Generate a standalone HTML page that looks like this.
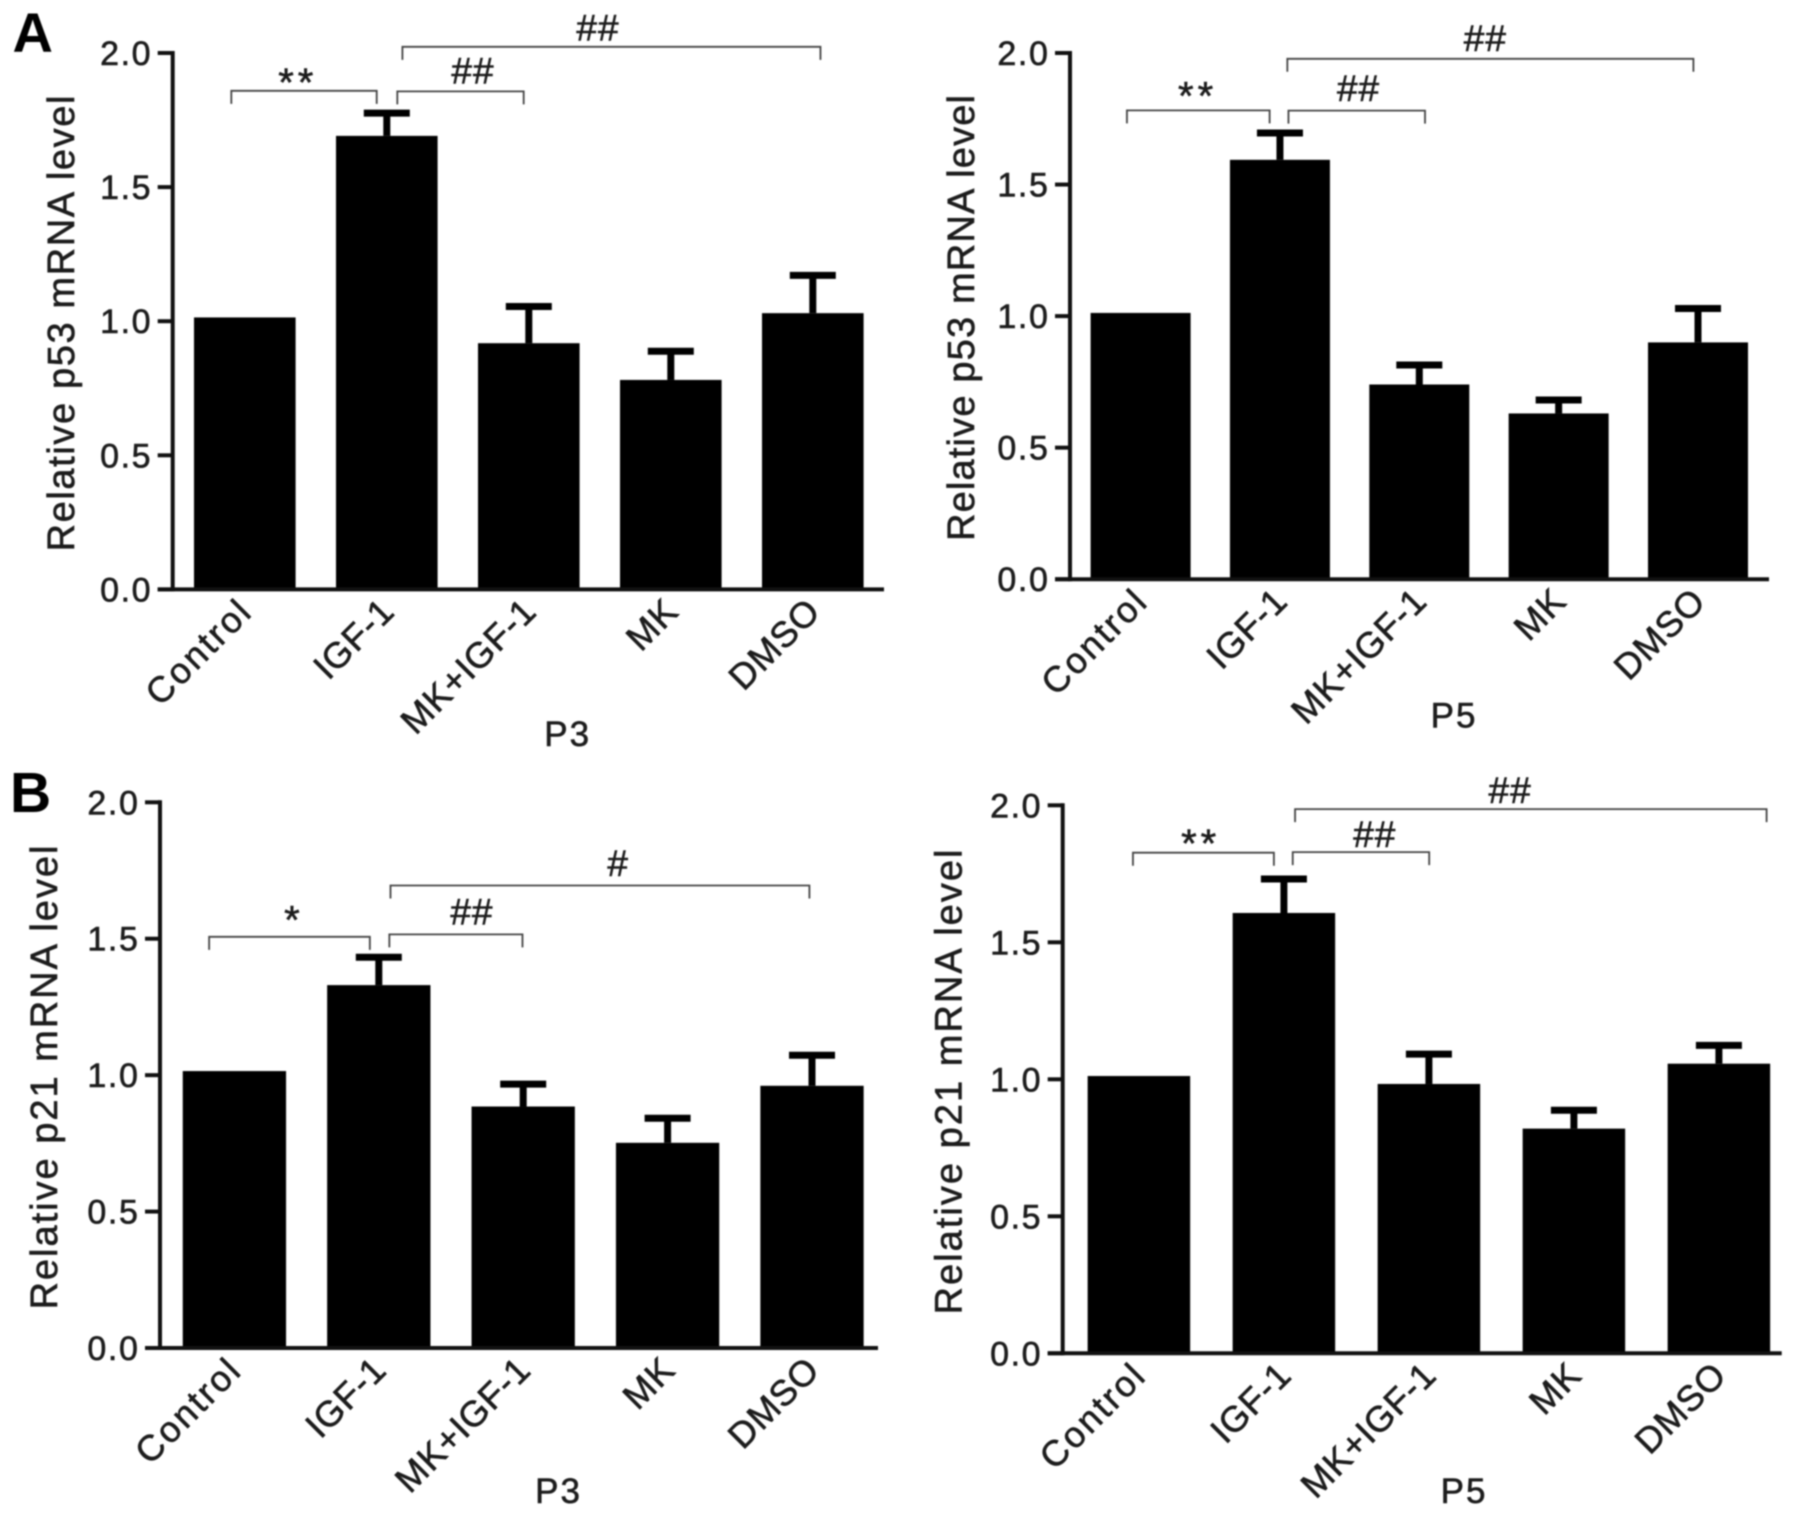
<!DOCTYPE html>
<html>
<head>
<meta charset="utf-8">
<title>Relative p53 and p21 mRNA levels</title>
<style>
html,body{margin:0;padding:0;background:#fff;width:1795px;height:1519px;overflow:hidden}
svg{display:block;filter:blur(0.8px)}
text{font-family:"Liberation Sans",Arial,sans-serif;fill:#1c1c1c;stroke:#1c1c1c;stroke-width:0.6px}
</style>
</head>
<body>
<svg id="figure" width="1795" height="1519" viewBox="0 0 1795 1519" xmlns="http://www.w3.org/2000/svg">
<rect x="0" y="0" width="1795" height="1519" fill="#fff"/>
<text x="12.5" y="52" font-size="56" font-weight="bold" style="fill:#000;stroke:none">A</text>
<text x="10" y="812" font-size="57" font-weight="bold" style="fill:#000;stroke:none">B</text>
</svg>
<script>
const categories = ['Control', 'IGF-1', 'MK+IGF-1', 'MK', 'DMSO'];
const yTickValues = [0, 0.5, 1, 1.5, 2];
const yTickLabels = ['0.0', '0.5', '1.0', '1.5', '2.0'];

const p53P3Values = [1.014, 1.691, 0.918, 0.781, 1.03];
const p53P3Errors = [0, 0.085, 0.137, 0.107, 0.141];
const p53P5Values = [1.012, 1.594, 0.74, 0.63, 0.9];
const p53P5Errors = [0, 0.102, 0.074, 0.051, 0.129];
const p21P3Values = [1.015, 1.33, 0.885, 0.752, 0.961];
const p21P3Errors = [0, 0.102, 0.082, 0.09, 0.112];
const p21P5Values = [1.012, 1.607, 0.983, 0.82, 1.057];
const p21P5Errors = [0, 0.124, 0.109, 0.067, 0.067];

const p53P3BracketText = ['**', '##', '##'];
const p53P3BracketFrom = [-0.095, 1.074, 1.11];
const p53P3BracketTo = [0.929, 1.964, 4.054];
const p53P3BracketLevel = [1.859, 1.857, 2.023];
const p53P3TextCat = [0.366, 1.6, 2.48];
const p53P3TextLevel = [1.915, 1.924, 2.083];

const p53P5BracketText = ['**', '##', '##'];
const p53P5BracketFrom = [-0.098, 1.061, 1.053];
const p53P5BracketTo = [0.926, 2.041, 3.967];
const p53P5BracketLevel = [1.782, 1.781, 1.978];
const p53P5TextCat = [0.402, 1.557, 2.467];
const p53P5TextLevel = [1.862, 1.856, 2.046];

const p21P3BracketText = ['*', '##', '#'];
const p21P3BracketFrom = [-0.175, 1.073, 1.081];
const p21P3BracketTo = [0.938, 1.995, 3.982];
const p21P3BracketLevel = [1.507, 1.516, 1.695];
const p21P3TextCat = [0.405, 1.638, 2.651];
const p21P3TextLevel = [1.592, 1.588, 1.766];

const p21P5BracketText = ['**', '##', '##'];
const p21P5BracketFrom = [-0.041, 1.061, 1.077];
const p21P5BracketTo = [0.931, 2.002, 4.329];
const p21P5BracketLevel = [1.827, 1.829, 1.986];
const p21P5TextCat = [0.419, 1.62, 2.553];
const p21P5TextLevel = [1.885, 1.885, 2.044];

const NS = 'http://www.w3.org/2000/svg';
const figure = document.getElementById('figure');

function make(parent, tag, attrs) {
  const el = document.createElementNS(NS, tag);
  for (const k in attrs) el.setAttribute(k, attrs[k]);
  parent.appendChild(el);
  return el;
}

function drawPanel(p) {
  const xPos = c => p.firstCenter + c * p.step;
  const yPos = v => p.y0 - (p.y0 - p.y2) * v / 2;

  const g = make(figure, 'g', {});
  
  

  p.values.forEach((v, i) => {
    const cx = xPos(i);
    const bar = make(g, 'rect', {x: cx - p.barWidth / 2, y: yPos(v), width: p.barWidth, height: p.y0 - yPos(v), fill: '#000'});
    
    
    if (p.errors[i] > 0) {
      const top = yPos(v + p.errors[i]);
      const stem = make(g, 'line', {x1: cx, x2: cx, y1: yPos(v), y2: top, stroke: '#000', 'stroke-width': 7});
      
      
      const cap = make(g, 'line', {x1: cx - 23, x2: cx + 23, y1: top, y2: top, stroke: '#000', 'stroke-width': 7});
      
      
    }
    const label = make(g, 'text', {
      x: 0, y: 0, 'font-size': 36, 'letter-spacing': categories[i] === 'Control' ? 2.4 : 0.8, 'text-anchor': 'end',
      transform: 'translate(' + (cx + 9.5) + ',' + (p.y0 + 24) + ') rotate(-45)'
    });
    label.textContent = categories[i];
    
    
  });

  const yAxis = make(g, 'line', {x1: p.axisX, x2: p.axisX, y1: p.y2 - 2, y2: p.y0 + 2, stroke: '#111', 'stroke-width': 4});
  
  
  const xAxis = make(g, 'line', {x1: p.axisX - 15, x2: p.axisEnd, y1: p.y0, y2: p.y0, stroke: '#111', 'stroke-width': 4});
  
  

  yTickValues.forEach((t, i) => {
    const y = yPos(t);
    const tick = make(g, 'line', {x1: p.axisX - 15, x2: p.axisX, y1: y, y2: y, stroke: '#111', 'stroke-width': 4});
    
    
    const label = make(g, 'text', {x: p.axisX - 20.5, y: y + 12, 'font-size': 34, 'letter-spacing': 1.6, 'text-anchor': 'end'});
    label.textContent = yTickLabels[i];
    
    
  });

  const yTitle = make(g, 'text', {
    x: 0, y: 0, 'font-size': 38, 'text-anchor': 'middle',
    textLength: p.titleLen, lengthAdjust: 'spacing',
    transform: 'translate(' + p.titleX + ',' + p.titleY + ') rotate(-90)'
  });
  yTitle.textContent = p.yTitle;
  
  

  const xTitle = make(g, 'text', {x: p.xTitleX, y: p.xTitleY, 'font-size': 35, 'letter-spacing': 2, 'text-anchor': 'middle'});
  xTitle.textContent = p.xTitle;
  
  

  p.bText.forEach((s, i) => {
    const x1 = xPos(p.bFrom[i]);
    const x2 = xPos(p.bTo[i]);
    const y = yPos(p.bLevel[i]);
    const bracket = make(g, 'path', {
      d: 'M' + x1 + ' ' + (y + 13) + 'V' + y + 'H' + x2 + 'V' + (y + 13),
      fill: 'none', stroke: '#444', 'stroke-width': 1.8
    });
    
    
    const star = s.charAt(0) === '*';
    const mark = make(g, 'text', {
      x: xPos(p.tCat[i]) + 1, y: yPos(p.tLevel[i]) + (star ? 20 : 10),
      'font-size': star ? 40 : 37, 'letter-spacing': star ? 4 : 1, 'text-anchor': 'middle'
    });
    mark.textContent = s;
    
    
  });
}

drawPanel({name: 'chart-p53-p3', yTitle: 'Relative p53 mRNA level', xTitle: 'P3',
  values: p53P3Values, errors: p53P3Errors,
  bText: p53P3BracketText, bFrom: p53P3BracketFrom, bTo: p53P3BracketTo, bLevel: p53P3BracketLevel,
  tCat: p53P3TextCat, tLevel: p53P3TextLevel,
  axisX: 172.7, axisEnd: 884, y2: 53, y0: 589.4, firstCenter: 244.8, step: 142, barWidth: 101.6,
  titleX: 74, titleY: 323.5, titleLen: 456, xTitleX: 567.7, xTitleY: 746});

drawPanel({name: 'chart-p53-p5', yTitle: 'Relative p53 mRNA level', xTitle: 'P5',
  values: p53P5Values, errors: p53P5Errors,
  bText: p53P5BracketText, bFrom: p53P5BracketFrom, bTo: p53P5BracketTo, bLevel: p53P5BracketLevel,
  tCat: p53P5TextCat, tLevel: p53P5TextLevel,
  axisX: 1070, axisEnd: 1769, y2: 53, y0: 579.2, firstCenter: 1140.6, step: 139.35, barWidth: 100,
  titleX: 974, titleY: 318, titleLen: 446, xTitleX: 1454, xTitleY: 727.5});

drawPanel({name: 'chart-p21-p3', yTitle: 'Relative p21 mRNA level', xTitle: 'P3',
  values: p21P3Values, errors: p21P3Errors,
  bText: p21P3BracketText, bFrom: p21P3BracketFrom, bTo: p21P3BracketTo, bLevel: p21P3BracketLevel,
  tCat: p21P3TextCat, tLevel: p21P3TextLevel,
  axisX: 160, axisEnd: 878, y2: 802.3, y0: 1348, firstCenter: 234.4, step: 144.4, barWidth: 103.3,
  titleX: 57, titleY: 1077.5, titleLen: 464, xTitleX: 558.5, xTitleY: 1503});

drawPanel({name: 'chart-p21-p5', yTitle: 'Relative p21 mRNA level', xTitle: 'P5',
  values: p21P5Values, errors: p21P5Errors,
  bText: p21P5BracketText, bFrom: p21P5BracketFrom, bTo: p21P5BracketTo, bLevel: p21P5BracketLevel,
  tCat: p21P5TextCat, tLevel: p21P5TextLevel,
  axisX: 1062.7, axisEnd: 1781.7, y2: 805.3, y0: 1353.3, firstCenter: 1138.9, step: 145, barWidth: 102.5,
  titleX: 961.6, titleY: 1082, titleLen: 465, xTitleX: 1464, xTitleY: 1503});
</script>
</body>
</html>
